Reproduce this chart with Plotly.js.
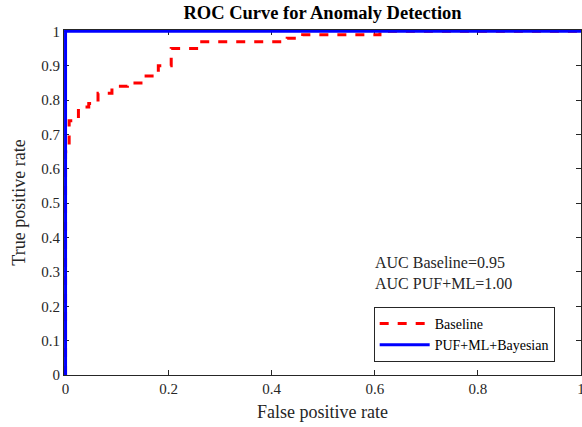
<!DOCTYPE html>
<html><head><meta charset="utf-8">
<script src="https://cdn.plot.ly/plotly-3.0.1.min.js"></script>
<style>html,body{margin:0;padding:0;background:#fff}#chart{width:582px;height:427px}</style>
</head><body><div id="chart"></div>
<script>
// Baseline ROC (step corners)
const baselineFPR = [0, 0, 0.007, 0.007, 0.025, 0.025, 0.045, 0.045, 0.063, 0.063, 0.09, 0.09, 0.12, 0.12, 0.15, 0.15, 0.18, 0.18, 0.205, 0.205, 0.26, 0.26, 0.43, 0.43, 0.46, 0.46, 0.61, 0.61, 1];
const baselineTPR = [0, 0.65, 0.65, 0.74, 0.74, 0.78, 0.78, 0.79, 0.79, 0.82, 0.82, 0.84, 0.84, 0.85, 0.85, 0.87, 0.87, 0.90, 0.90, 0.95, 0.95, 0.97, 0.97, 0.98, 0.98, 0.99, 0.99, 1, 1];
// Proposed method ROC
const pufFPR = [0, 0, 1];
const pufTPR = [0, 1, 1];
const seriesNames = ["Baseline", "PUF+ML+Bayesian"];
const aucLabels = ["AUC Baseline=0.95", "AUC PUF+ML=1.00"];
const xTicks = [0, 0.2, 0.4, 0.6, 0.8, 1];
const yTicks = [0, 0.1, 0.2, 0.3, 0.4, 0.5, 0.6, 0.7, 0.8, 0.9, 1];

const font = "Liberation Serif, Times New Roman, serif";
const traces = [
  {x: baselineFPR, y: baselineTPR, name: seriesNames[0], mode: "lines",
   line: {color: "#ff0000", width: 3, dash: "dash"}},
  {x: pufFPR, y: pufTPR, name: seriesNames[1], mode: "lines",
   line: {color: "#0000ff", width: 3}}
];
const axisCommon = {
  showgrid: false, zeroline: false, showline: true, mirror: "ticks",
  linecolor: "#262626", linewidth: 1, ticks: "inside", ticklen: 5,
  tickcolor: "#262626", tickfont: {family: font, size: 15, color: "#262626"},
  layer: "below traces", ticklabeloverflow: "allow"
};
const layout = {
  width: 582, height: 427,
  margin: {l: 64, r: 1, t: 30, b: 52},
  paper_bgcolor: "#fff", plot_bgcolor: "#fff",
  font: {family: font, color: "#262626"},
  title: {text: "<b>ROC Curve for Anomaly Detection</b>", font: {family: font, size: 18.5, color: "#000"},
          xref: "paper", x: 0.5, xanchor: "center", y: 0.985, yanchor: "top"},
  xaxis: Object.assign({}, axisCommon, {range: [-0.003, 1], tickvals: xTicks,
    ticktext: xTicks.map(String),
    title: {text: "False positive rate", font: {family: font, size: 18, color: "#262626"}, standoff: 9}}),
  yaxis: Object.assign({}, axisCommon, {range: [0, 1.004], tickvals: yTicks,
    ticktext: yTicks.map(String),
    title: {text: "True positive rate", font: {family: font, size: 18, color: "#262626"}, standoff: 10}}),
  showlegend: true,
  legend: {x: 0.599, y: 0.038, xanchor: "left", yanchor: "bottom",
    bgcolor: "#fff", bordercolor: "#262626", borderwidth: 1, itemwidth: 50,
    font: {family: font, size: 14, color: "#000"}, tracegroupgap: 0},
  annotations: [
    {text: aucLabels[0], x: 0.596, y: 0.328, xref: "x", yref: "y", showarrow: false,
     xanchor: "left", yanchor: "middle", font: {family: font, size: 16, color: "#262626"}},
    {text: aucLabels[1], x: 0.596, y: 0.265, xref: "x", yref: "y", showarrow: false,
     xanchor: "left", yanchor: "middle", font: {family: font, size: 16, color: "#262626"}}
  ]
};
Plotly.newPlot("chart", traces, layout, {displayModeBar: false, staticPlot: true});
</script></body></html>
